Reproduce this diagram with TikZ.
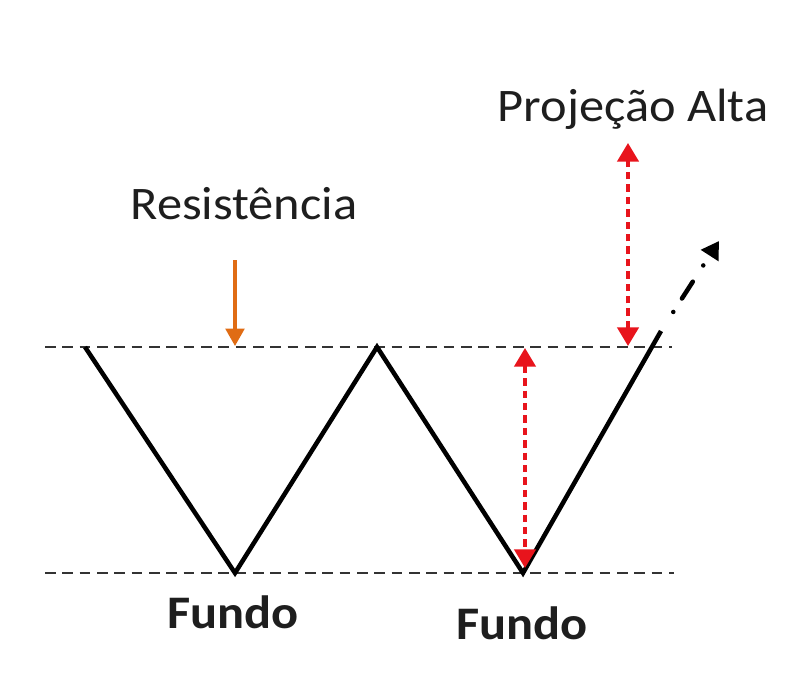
\documentclass[tikz,border=0pt]{standalone}
\usepackage{fontspec}
\setmainfont{Carlito}
\usetikzlibrary{arrows.meta}
\definecolor{txt}{HTML}{1E1E1E}
\definecolor{guide}{HTML}{333333}
\definecolor{projred}{HTML}{E8141C}
\definecolor{resorange}{HTML}{E06C14}
\newcommand{\wide}[1]{\scalebox{1.08}[1]{#1}}
\tikzset{
  guideline/.style={guide, line width=2.2pt, dash pattern=on 8pt off 5pt},
  wline/.style={black, line width=3.4pt, line join=miter},
  projarrow/.style={projred, line width=2.6pt, dash pattern=on 5.5pt off 3.8pt,
    {Triangle[width=16pt,length=14pt]}-{Triangle[width=16pt,length=14pt]}},
  label/.style={txt, font=\fontsize{35}{40}\selectfont, anchor=base, inner sep=0pt},
  boldlabel/.style={label, font=\fontsize{35}{40}\selectfont\bfseries},
}
\begin{document}
\begin{tikzpicture}[x=0.75pt, y=-0.75pt]
\path[use as bounding box, fill=white] (0,0) rectangle (800,675);
% W points
\coordinate (w0) at (85,347);
\coordinate (w1) at (235,573);
\coordinate (w2) at (377,347);
\coordinate (w3) at (523,573);
\coordinate (w4) at (661,331);
\coordinate (tip) at (719,241);
% guide lines
\coordinate (tl) at (45,347);
\coordinate (tr) at (672,347);
\coordinate (bl) at (45,573);
\coordinate (br) at (674,573);
\draw[guideline] (tl) -- (tr);
\draw[guideline] (bl) -- (br);
% W
\draw[wline] (w0) -- (w1) -- (w2) -- (w3) -- (w4);
% breakout dash-dot
\draw[black, line width=3.4pt, line cap=round,
  dash pattern=on 0pt off 12pt on 15pt off 14.5pt on 0pt off 40pt, dash phase=64.5pt,
  -{Triangle[width=15pt,length=13pt]}] (w4) -- (tip);
% resistance arrow
\coordinate (ra) at (235,260);
\coordinate (rb) at (235,346);
\draw[resorange, line width=2.4pt, -{Triangle[width=14pt,length=13pt]}] (ra) -- (rb);
% projection arrows
\coordinate (p1a) at (628,143);
\coordinate (p1b) at (628,346);
\coordinate (p2a) at (525,348);
\coordinate (p2b) at (525,568);
\draw[projarrow] (p1b) -- (p1a);
\draw[projarrow] (p2a) -- (p2b);
% labels
\node[label] (proj) at (633,121) {\wide{Projeção Alta}};
\node[label] (res) at (244,219) {\wide{Resistência}};
\node[boldlabel] (f1) at (233,628) {\wide{Fundo}};
\node[boldlabel] (f2) at (522,639) {\wide{Fundo}};
\end{tikzpicture}
\end{document}
